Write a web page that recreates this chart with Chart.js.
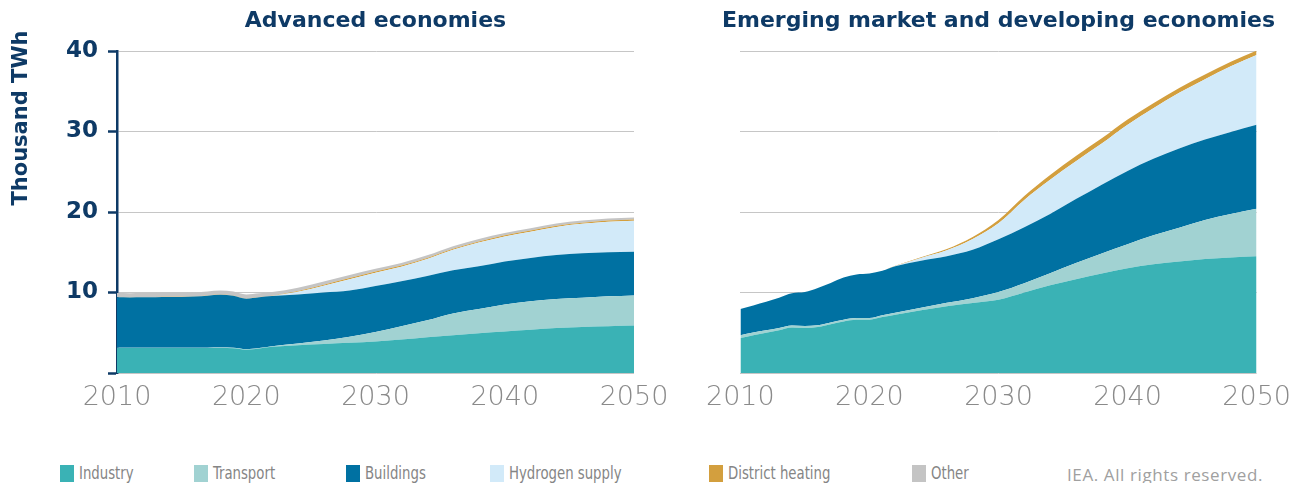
<!DOCTYPE html>
<html>
<head>
<meta charset="utf-8">
<script src="https://cdn.jsdelivr.net/npm/chart.js@4.4.0/dist/chart.umd.min.js"></script>
<style>
    body { margin: 0; background: #fff; }
    #wrap { position: relative; width: 1290px; height: 483px; overflow: hidden; }
    #adv { position: absolute; left: 0; top: 0; }
    #emd { position: absolute; left: 697px; top: 0; }
    .lg-box { position: absolute; top: 465px; width: 14px; height: 17px; }
    .lg-txt { position: absolute; top: 462px; font-family: "DejaVu Sans Condensed", sans-serif; font-size: 18px; color: #858585; white-space: nowrap; transform: scaleX(0.82); transform-origin: left center; }
    #credit { position: absolute; left: 1067px; top: 463px; font-family: "Open Sans", sans-serif; font-size: 17px; letter-spacing: 0.6px; color: #a0a0a0; }
</style>
</head>
<body>
<div id="wrap">
    <canvas id="adv" width="680" height="440"></canvas>
    <canvas id="emd" width="603" height="440"></canvas>
    <div id="legend"></div>
    <div id="credit">IEA. All rights reserved.</div>
</div>
<script>
// DATA
const years = [2010, 2011, 2012, 2013, 2014, 2015, 2016, 2017, 2018, 2019, 2020, 2021, 2022,
    2024, 2026, 2028, 2030, 2032, 2034, 2036, 2038, 2040, 2042, 2044, 2046, 2048, 2050];

const seriesNames = ["Industry", "Transport", "Buildings", "Hydrogen supply", "District heating", "Other"];
const seriesColors = ["#3ab2b5", "#a1d2d2", "#0071a2", "#d2eaf9", "#d39f3e", "#c4c4c4"];

// Advanced economies (thousand TWh)
const advIndustry = [3.1, 3.1, 3.1, 3.1, 3.1, 3.1, 3.1, 3.1, 3.12, 3.08, 2.9, 3.05, 3.25,
    3.45, 3.6, 3.75, 3.9, 4.15, 4.45, 4.7, 4.95, 5.17, 5.38, 5.58, 5.72, 5.82, 5.9];
const advTransport = [0.05, 0.05, 0.05, 0.05, 0.05, 0.05, 0.05, 0.05, 0.05, 0.05, 0.05, 0.05, 0.08,
    0.22, 0.45, 0.75, 1.18, 1.65, 2.1, 2.7, 3.0, 3.33, 3.52, 3.6, 3.62, 3.7, 3.74];
const advBuildings = [6.25, 6.23, 6.25, 6.27, 6.28, 6.3, 6.35, 6.45, 6.55, 6.47, 6.28, 6.3, 6.22,
    6.08, 5.95, 5.75, 5.72, 5.6, 5.5, 5.35, 5.3, 5.36, 5.4, 5.47, 5.54, 5.48, 5.43];
const advHydrogen = [0, 0, 0, 0, 0, 0, 0, 0, 0, 0, 0, 0, 0.02,
    0.35, 0.85, 1.4, 1.65, 1.8, 2.1, 2.55, 2.95, 3.1, 3.25, 3.5, 3.65, 3.8, 3.85];
const advDistrict = [0.03, 0.03, 0.03, 0.03, 0.03, 0.03, 0.03, 0.03, 0.03, 0.03, 0.03, 0.03, 0.03,
    0.08, 0.12, 0.15, 0.15, 0.15, 0.15, 0.15, 0.15, 0.15, 0.15, 0.15, 0.15, 0.15, 0.15];
const advOther = [0.5, 0.5, 0.5, 0.5, 0.5, 0.5, 0.5, 0.5, 0.5, 0.5, 0.5, 0.48, 0.45,
    0.42, 0.4, 0.37, 0.35, 0.33, 0.32, 0.3, 0.3, 0.28, 0.27, 0.26, 0.25, 0.25, 0.25];

// Emerging market and developing economies (thousand TWh)
const emIndustry = [4.35, 4.7, 5.0, 5.3, 5.65, 5.6, 5.7, 6.05, 6.4, 6.6, 6.62, 6.95, 7.25,
    7.8, 8.3, 8.7, 9.1, 10.0, 10.9, 11.65, 12.35, 13.0, 13.5, 13.85, 14.15, 14.35, 14.5];
const emTransport = [0.35, 0.33, 0.3, 0.28, 0.25, 0.25, 0.22, 0.22, 0.22, 0.22, 0.2, 0.22, 0.25,
    0.3, 0.42, 0.6, 0.95, 1.15, 1.5, 2.0, 2.5, 3.0, 3.6, 4.2, 4.85, 5.4, 5.9];
const emBuildings = [3.25, 3.37, 3.55, 3.77, 4.0, 4.2, 4.63, 4.91, 5.23, 5.43, 5.55, 5.53, 5.75,
    5.85, 5.78, 6.0, 6.55, 6.95, 7.35, 7.95, 8.55, 9.1, 9.5, 9.85, 10.0, 10.2, 10.44];
const emHydrogen = [0, 0, 0, 0, 0, 0, 0, 0, 0, 0, 0, 0, 0.05,
    0.35, 0.75, 1.35, 2.0, 3.4, 4.25, 4.7, 5.1, 5.74, 6.3, 6.9, 7.5, 8.15, 8.66];
const emDistrict = [0, 0, 0, 0, 0, 0, 0, 0, 0, 0, 0, 0, 0.02,
    0.08, 0.15, 0.25, 0.4, 0.5, 0.6, 0.65, 0.65, 0.65, 0.62, 0.6, 0.58, 0.55, 0.55];
const emOther = [0, 0, 0, 0, 0, 0, 0, 0, 0, 0, 0, 0, 0,
    0, 0, 0, 0, 0, 0, 0, 0, 0, 0, 0, 0, 0, 0];

const yTicks = [0, 10, 20, 30, 40];
const xTicks = [2010, 2020, 2030, 2040, 2050];
const yTitle = "Thousand TWh";

const NAVY = "#0e3a66";
const GRID = "#c6c6c6";

// DATASETS
function buildDatasets(seriesList) {
    return seriesList.map((vals, i) => ({
        label: seriesNames[i],
        data: vals.map((v, j) => ({ x: years[j], y: v })),
        backgroundColor: seriesColors[i],
        borderWidth: 0,
        pointRadius: 0,
        fill: i === 0 ? "origin" : "-1",
        cubicInterpolationMode: "monotone",
        yAxisID: "y"
    }));
}

// rotated axis title, sits above the middle of the axis like the original
const yTitlePlugin = {
    id: "yTitle",
    afterDraw(chart) {
        const ctx = chart.ctx;
        ctx.save();
        ctx.translate(22, 118);
        ctx.rotate(-Math.PI / 2);
        ctx.font = "bold 21px 'DejaVu Sans'";
        ctx.fillStyle = NAVY;
        ctx.textAlign = "center";
        ctx.textBaseline = "middle";
        ctx.fillText(yTitle, 0, 0);
        ctx.restore();
    }
};

// opts: title, titleSize, showAxis, pad, yWidth, rightWidth, titleFull
function chartOptions(o) {
    return {
        responsive: false,
        animation: false,
        layout: { padding: o.pad },
        plugins: {
            legend: { display: false },
            tooltip: { enabled: false },
            title: {
                display: true,
                text: o.title,
                fullSize: o.titleFull,
                color: NAVY,
                font: { family: "DejaVu Sans", size: o.titleSize, weight: "bold", lineHeight: 1.2 },
                padding: { top: 34.6 - o.titleSize * 1.2, bottom: 16.4 }
            }
        },
        scales: {
            x: {
                type: "linear",
                min: 2010,
                max: 2050,
                afterBuildTicks: s => { s.ticks = xTicks.map(v => ({ value: v })); },
                afterFit: s => { s.height = 67; },
                grid: { display: false, drawTicks: false },
                border: { display: false },
                ticks: {
                    color: "#8a8a8a",
                    font: { family: "DejaVu Sans", size: 27, weight: 200 },
                    padding: 9,
                    maxRotation: 0,
                    callback: v => String(v)
                }
            },
            y: {
                stacked: true,
                min: 0,
                max: 40,
                afterBuildTicks: s => { s.ticks = yTicks.map(v => ({ value: v })); },
                afterFit: s => { s.width = o.yWidth; },
                grid: {
                    color: GRID,
                    lineWidth: 1,
                    drawTicks: o.showAxis,
                    tickLength: 9,
                    tickColor: NAVY,
                    tickWidth: 2.5
                },
                border: { display: o.showAxis, color: NAVY, width: 2.5 },
                ticks: {
                    display: o.showAxis,
                    color: NAVY,
                    padding: 10,
                    font: { family: "DejaVu Sans", size: 23, weight: "bold" },
                    callback: v => (v === 0 ? "" : String(v))
                }
            },
            // empty right-hand spacer so the plot ends where the original does
            yR: {
                position: "right",
                display: o.rightWidth > 0,
                afterFit: s => { s.width = o.rightWidth; },
                grid: { display: false, drawTicks: false },
                border: { display: false },
                ticks: { display: false }
            }
        }
    };
}

const advChart = new Chart(document.getElementById("adv"), {
    type: "line",
    data: {
        datasets: buildDatasets([advIndustry, advTransport, advBuildings, advHydrogen, advDistrict, advOther])
    },
    options: chartOptions({
        title: "Advanced economies", titleSize: 22, showAxis: true, titleFull: false,
        pad: { left: 0, right: 46, top: 0, bottom: 0 }, yWidth: 117, rightWidth: 0
    }),
    plugins: [yTitlePlugin]
});

const emdChart = new Chart(document.getElementById("emd"), {
    type: "line",
    data: {
        datasets: buildDatasets([emIndustry, emTransport, emBuildings, emHydrogen, emDistrict, emOther])
    },
    options: chartOptions({
        title: "Emerging market and developing economies", titleSize: 22, showAxis: false, titleFull: true,
        pad: { left: 0, right: 0, top: 0, bottom: 0 }, yWidth: 41, rightWidth: 43
    })
});

// LEGEND
const legendX = [60, 194, 346, 490, 709, 912];
const legend = document.getElementById("legend");
advChart.data.datasets.forEach((ds, i) => {
    const box = document.createElement("div");
    box.className = "lg-box";
    box.style.left = legendX[i] + "px";
    box.style.background = ds.backgroundColor;
    legend.appendChild(box);

    const txt = document.createElement("div");
    txt.className = "lg-txt";
    txt.style.left = (legendX[i] + 19) + "px";
    txt.textContent = ds.label;
    legend.appendChild(txt);
});
</script>
</body>
</html>
